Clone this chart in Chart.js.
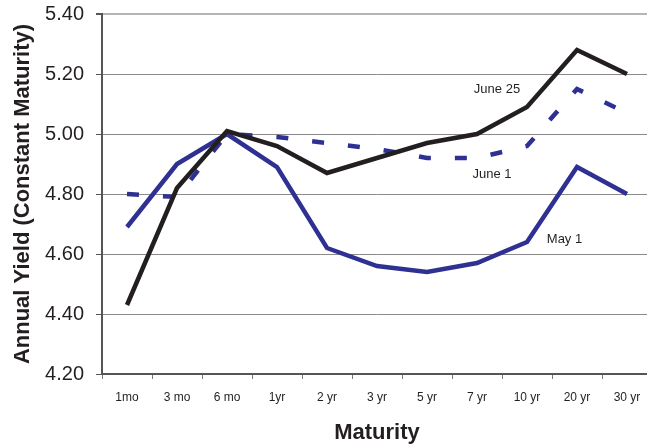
<!DOCTYPE html>
<html>
<head>
<meta charset="utf-8">
<script src="https://cdn.jsdelivr.net/npm/chart.js@4"></script>
<style>
  html, body { margin: 0; padding: 0; background: #fff; overflow: hidden; }
  #wrap { width: 660px; height: 446px; }
</style>
</head>
<body>
<div id="wrap"><canvas id="chart"></canvas></div>
<script>
const maturities = ["1mo", "3 mo", "6 mo", "1yr", "2 yr", "3 yr", "5 yr", "7 yr", "10 yr", "20 yr", "30 yr"];
const may1 = [4.69, 4.90, 5.00, 4.89, 4.62, 4.56, 4.54, 4.57, 4.64, 4.89, 4.80];
const june1 = [4.80, 4.79, 5.00, 4.99, 4.97, 4.95, 4.92, 4.92, 4.96, 5.15, 5.07];
const june25 = [4.43, 4.82, 5.01, 4.96, 4.87, 4.92, 4.97, 5.00, 5.09, 5.28, 5.20];
const yTicks = [4.20, 4.40, 4.60, 4.80, 5.00, 5.20, 5.40];

// series name labels, placed in data units (category index, yield)
const seriesLabels = [
    { text: "June 25", x: 7.4, y: 5.15 },
    { text: "June 1", x: 7.3, y: 4.865 },
    { text: "May 1", x: 8.75, y: 4.65 },
];

const BLUE = "#2e3192";
const INK = "#231f20";
const FONT = "'Liberation Sans', Arial, sans-serif";

const lineLabels = {
    id: "lineLabels",
    afterDatasetsDraw(chart) {
        const { ctx, scales } = chart;
        ctx.save();
        ctx.font = "13px " + FONT;
        ctx.fillStyle = INK;
        ctx.textAlign = "center";
        ctx.textBaseline = "middle";
        seriesLabels.forEach((l) => {
            ctx.fillText(l.text, scales.x.getPixelForValue(l.x), scales.y.getPixelForValue(l.y));
        });
        ctx.restore();
    },
};

new Chart(document.getElementById("chart"), {
    type: "line",
    data: {
        labels: maturities,
        datasets: [
            {
                label: "June 25",
                data: june25,
                borderColor: INK,
                borderWidth: 4.5,
                pointRadius: 0,
                order: 0,
            },
            {
                label: "June 1",
                data: june1,
                borderColor: BLUE,
                borderWidth: 4.5,
                borderDash: [12, 24],
                pointRadius: 0,
                order: 1,
            },
            {
                label: "May 1",
                data: may1,
                borderColor: BLUE,
                borderWidth: 4.5,
                pointRadius: 0,
                order: 2,
            },
        ],
    },
    options: {
        responsive: true,
        maintainAspectRatio: false,
        animation: false,
        layout: { padding: { top: 14, right: 8, bottom: 0, left: 0 } },
        plugins: {
            legend: { display: false },
            tooltip: { enabled: false },
        },
        scales: {
            x: {
                offset: true,
                grid: {
                    offset: true,
                    drawOnChartArea: false,
                    drawTicks: true,
                    tickLength: 5,
                    color: "#777",
                },
                border: { color: "#555", width: 2 },
                ticks: {
                    autoSkip: false,
                    maxRotation: 0,
                    padding: 11,
                    color: INK,
                    font: { family: FONT, size: 12 },
                },
                title: {
                    display: true,
                    text: "Maturity",
                    color: INK,
                    padding: { top: 0, bottom: 0 },
                    font: { family: FONT, size: 22, weight: "bold" },
                },
                afterFit(scale) {
                    scale.height = 72;
                },
            },
            y: {
                min: 4.2,
                max: 5.4,
                afterBuildTicks(scale) {
                    scale.ticks = yTicks.map((v) => ({ value: v }));
                },
                grid: {
                    color: (c) => (c.tick && c.tick.value === 5.4 ? "#b5b5b5" : "#8a8a8a"),
                    lineWidth: (c) => (c.tick && c.tick.value === 5.4 ? 2 : 1),
                    tickColor: "#555",
                    tickLength: 6,
                },
                border: { color: "#555", width: 2 },
                ticks: {
                    padding: 12,
                    color: INK,
                    font: { family: FONT, size: 20 },
                    callback: (v) => Number(v).toFixed(2),
                },
                title: {
                    display: true,
                    text: "Annual Yield (Constant Maturity)",
                    color: INK,
                    padding: { top: 10, bottom: 0 },
                    font: { family: FONT, size: 22, weight: "bold" },
                },
                afterFit(scale) {
                    scale.width = 102;
                    // labels overhang into the layout padding, no extra room needed
                    scale.paddingTop = 0;
                    scale.paddingBottom = 0;
                },
            },
        },
    },
    plugins: [lineLabels],
});
</script>
</body>
</html>
